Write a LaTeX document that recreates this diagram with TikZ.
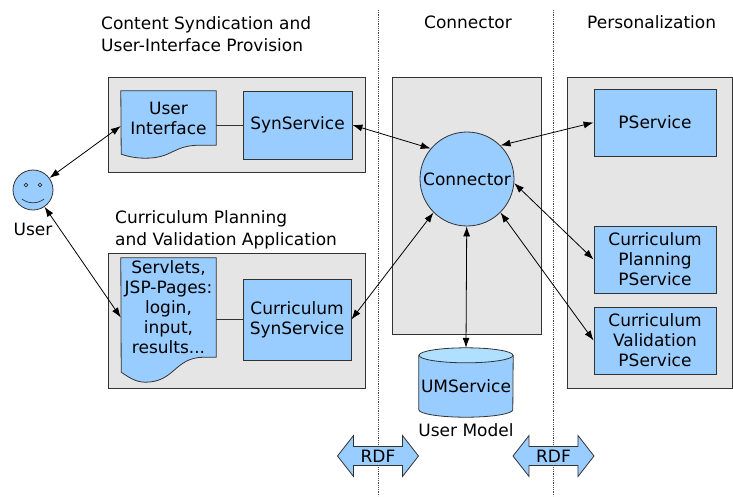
\documentclass[tikz,border=0pt]{standalone}
\usepackage{fontspec}
\setmainfont{DejaVu Sans}
\usetikzlibrary{positioning,shapes.arrows,arrows.meta,backgrounds}

\definecolor{boxblue}{HTML}{99CCFF}
\definecolor{capblue}{HTML}{B0E0FF}
\definecolor{panelgray}{HTML}{E5E5E5}
\definecolor{edge}{HTML}{333333}

\begin{document}
\begin{tikzpicture}[x=1pt,y=-1pt,
	font=\fontsize{17}{20}\selectfont,
	>={Latex[length=10pt,width=7pt]},
	panel/.style={draw=edge,fill=panelgray,line width=0.9pt,inner sep=0pt},
	service/.style={draw=edge,fill=boxblue,line width=0.8pt,align=center,inner sep=0pt},
	doc/.style={draw=edge,fill=boxblue,line width=0.8pt},
	title/.style={align=left,anchor=west,inner sep=0pt,font=\fontsize{17}{22.5}\selectfont},
	link/.style={<->,line width=0.8pt},
	sep/.style={densely dotted,gray!60!black,line width=0.8pt},
	rdf/.style={double arrow,draw=edge,fill=boxblue,line width=0.8pt,minimum height=81pt,minimum width=41pt,
		double arrow head extend=10pt,double arrow tip angle=104,inner sep=2pt}]
	\useasboundingbox (0,0) rectangle (733,496);

	\draw[sep] (378,10) -- (378,496);
	\draw[sep] (553,10) -- (553,496);

	\begin{scope}[on background layer]
	\node[panel,minimum width=257pt,minimum height=95pt]  (synpanel)  at (236.5,124.5) {};
	\node[panel,minimum width=257pt,minimum height=135pt] (curpanel)  at (236.5,320.5) {};
	\node[panel,minimum width=149pt,minimum height=257pt] (connpanel) at (466.5,205.5) {};
	\node[panel,minimum width=165pt,minimum height=311pt] (perspanel) at (649.5,232.5) {};
	\end{scope}

	\node[title] (syntitle) at (101,34) {Content Syndication and\\User-Interface Provision};
	\node[title] (curtitle) at (115,230) {Curriculum Planning\\and Validation Application};
	\node (conntitle) at (468,22.5) {Connector};
	\node[title] (pertitle) at (587,22.5) {Personalization};

	\node[draw=edge,fill=boxblue,circle,line width=0.8pt,minimum size=40pt,inner sep=0pt] (user) at (33,190) {};
	\draw[edge,line width=0.7pt] (user.center) ++(-7,-5) circle[radius=1.8pt] ++(14,0) circle[radius=1.8pt];
	\draw[edge,line width=0.7pt] (user.center) ++(-11,9) .. controls +(6,5) and +(-6,5) .. ++(22,0);
	\node[below=9pt of user] (userlabel) {User};

	\node[align=center,minimum width=95pt,minimum height=54pt,inner sep=0pt] (ui) at (168.5,118) {User\\Interface};
	\node[align=center,minimum width=95pt,minimum height=99pt,inner sep=0pt] (sv) at (168.5,307.5) {Servlets,\\JSP-Pages:\\login,\\input,\\results...};
	\begin{scope}[on background layer]
	\draw[doc] (ui.north west) -- (ui.north east) -- (ui.south east) -- ++(-16,0)
		.. controls +(-28,0) and +(28,0) .. ++(-55,13)
		.. controls +(-10,0) and +(6,2) .. ++(-24,-4) -- cycle;
	\draw[doc] (sv.north west) -- (sv.north east) -- (sv.south east) -- ++(-12,0)
		.. controls +(-30,0) and +(30,0) .. ++(-59,25)
		.. controls +(-10,0) and +(6,4) .. ++(-24,-10) -- cycle;
	\end{scope}

	\node[service,minimum width=109pt,minimum height=68pt] (syn) at (297.5,125) {SynService};
	\node[service,minimum width=108pt,minimum height=81pt] (cursyn) at (297,319.5) {Curriculum\\SynService};
	\node[service,circle,minimum size=94pt] (conn) at (467,179) {Connector};
	\node[service,minimum width=122pt,minimum height=67pt] (pserv) at (655,122.5) {PService};
	\node[service,minimum width=122pt,minimum height=67pt] (cpp) at (655,259.5) {Curriculum\\Planning\\PService};
	\node[service,minimum width=122pt,minimum height=67pt] (cvp) at (655,340.5) {Curriculum\\Validation\\PService};

	\node[inner sep=0pt,minimum width=94pt,minimum height=54pt,text height=20pt,text depth=0pt] (um) at (466,382.5) {UMService};
	\begin{scope}[on background layer]
	\draw[doc] (um.north west) -- (um.south west) arc[start angle=180,end angle=360,x radius=47pt,y radius=7.5pt]
		-- (um.north east) -- cycle;
	\draw[doc,fill=capblue] (um.north) ellipse[x radius=47pt,y radius=7.5pt];
	\end{scope}
	\node[below=10pt of um] (umlabel) {User Model};

	\draw[edge,line width=0.8pt] (syn.west) -- (syn.west -| ui.east);
	\draw[edge,line width=0.8pt] (cursyn.west) -- (cursyn.west -| sv.east);
	\draw[link] (user) -- ([yshift=-8pt]ui.west);
	\draw[link] (user) -- ([yshift=-10pt]sv.west);
	\draw[link] (syn.east) -- (conn.140);
	\draw[link] (cursyn.east) -- (conn.225);
	\draw[link] (conn.45) -- (pserv.west);
	\draw[link] (conn.355) -- (cpp.west);
	\draw[link] (conn.315) -- (cvp.west);
	\draw[link] (conn) -- ([yshift=7.5pt]um.north);

	\node[rdf] (rdfleft) at (378,456) {RDF};
	\node[rdf] (rdfright) at (553.5,456) {RDF};
\end{tikzpicture}
\end{document}
